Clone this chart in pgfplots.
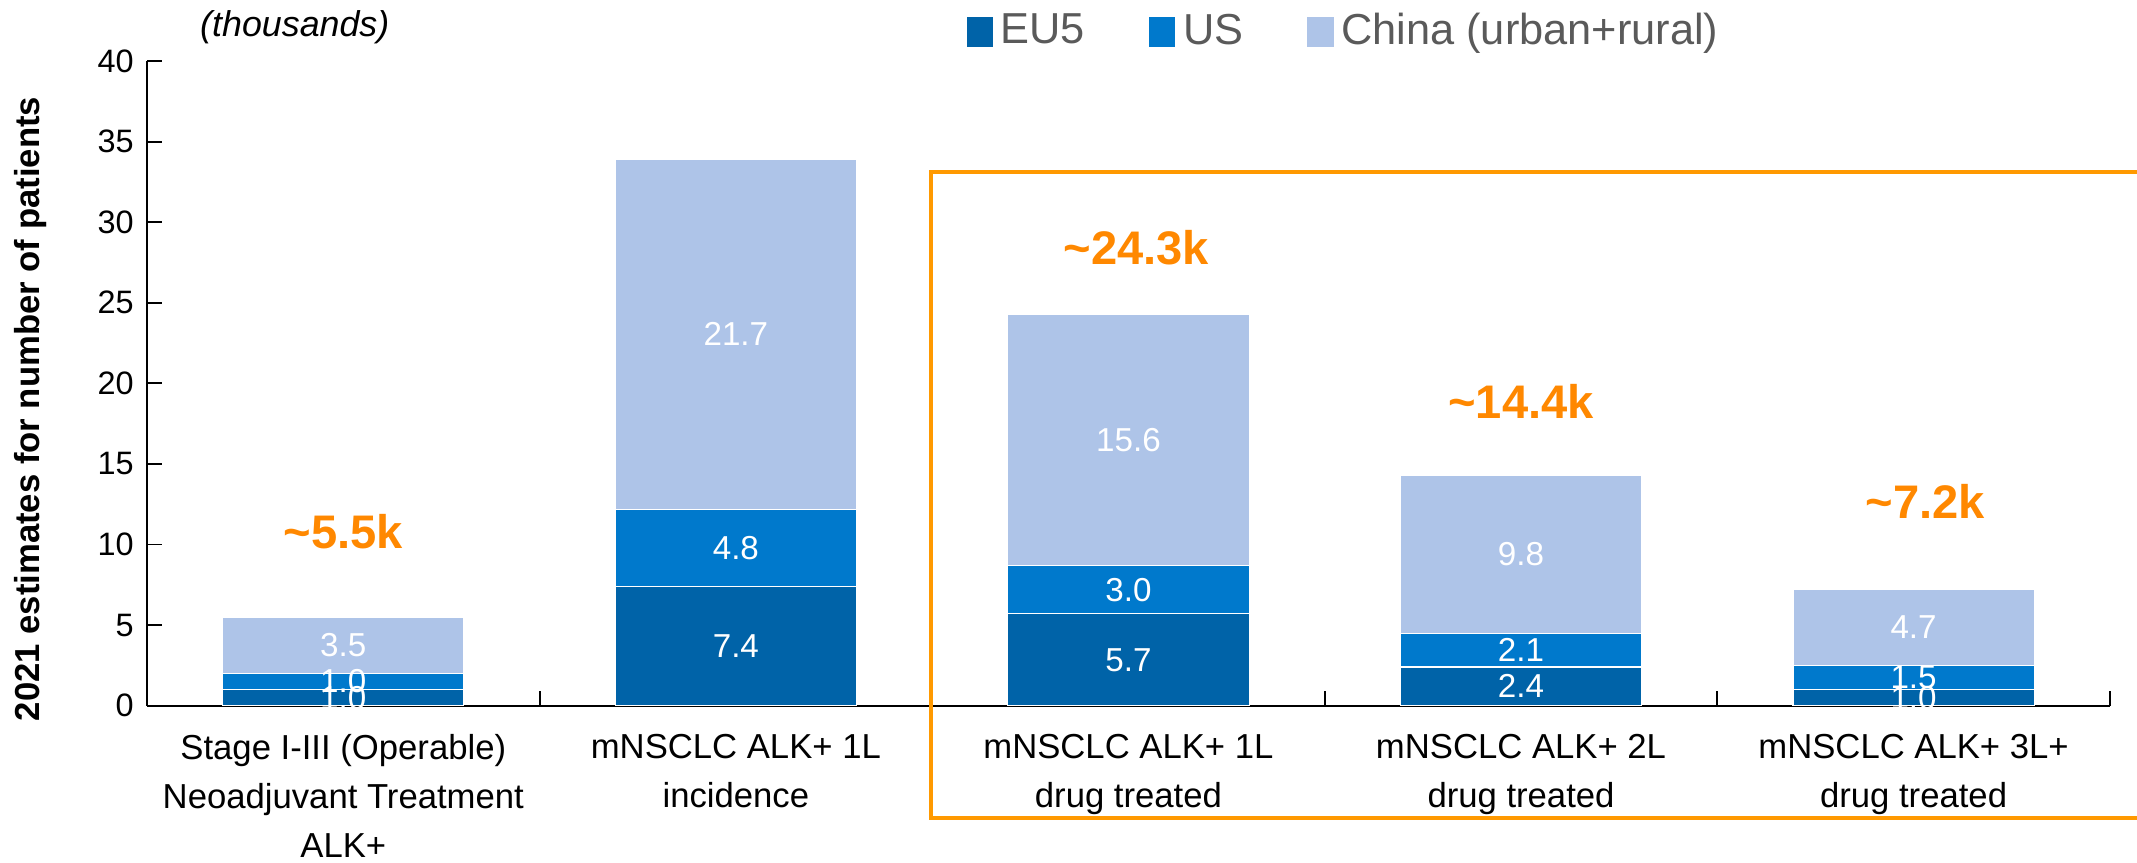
\documentclass[border=0pt]{standalone}
\usepackage{fontspec}
\setmainfont{Liberation Sans}
\usepackage{pgfplots}
\usepackage{pgfplotstable}
\pgfplotsset{compat=1.18}
\definecolor{eu}{RGB}{0,99,168}
\definecolor{us}{RGB}{0,121,204}
\definecolor{cn}{RGB}{174,196,232}
\definecolor{orangebox}{RGB}{255,153,0}
\definecolor{orangetxt}{RGB}{255,136,0}
\definecolor{legtxt}{RGB}{90,90,90}

\pgfplotstableread{
x eu us cn
0 1.0 1.0 3.5
1 7.4 4.8 21.7
2 5.7 3.0 15.6
3 2.4 2.1 9.8
4 1.0 1.5 4.7
}\datatab

\pgfplotstableread{
x y lab
0 0.5 1.0
0 1.5 1.0
0 3.75 3.5
1 3.7 7.4
1 9.8 4.8
1 23.05 21.7
2 2.85 5.7
2 7.2 3.0
2 16.5 15.6
3 1.2 2.4
3 3.45 2.1
3 9.4 9.8
4 0.5 1.0
4 1.75 1.5
4 4.85 4.7
}\segtab

\pgfplotstableread{
x y lab
0 10.8 \textasciitilde{}5.5k
2.02 28.4 \textasciitilde{}24.3k
3.0 18.9 \textasciitilde{}14.4k
4.03 12.7 \textasciitilde{}7.2k
}\tottab

\begin{document}
\begin{tikzpicture}
\useasboundingbox (-39pt,-41.6pt) rectangle (527.9pt,187.2pt);
\begin{axis}[
  scale only axis, width=520.7pt, height=171pt,
  ybar stacked, bar width=64pt,
  xmin=-0.5, xmax=4.5, ymin=0, ymax=40,
  axis x line*=bottom, axis y line*=left,
  axis line style={black, line width=0.6pt},
  tick align=inside, major tick length=4pt,
  tick style={black, line width=0.5pt},
  xtick={-0.5,0.5,...,4.5}, xticklabels={},
  extra x ticks={0,1,2,3,4},
  extra x tick labels={{Stage I-III (Operable)\\Neoadjuvant Treatment\\ALK+},{mNSCLC ALK+ 1L\\incidence},{mNSCLC ALK+ 1L\\drug treated},{mNSCLC ALK+ 2L\\drug treated},{mNSCLC ALK+ 3L+\\drug treated}},
  extra x tick style={major tick length=0pt},
  xticklabel style={align=center, font=\fontsize{9.2}{13.1}\selectfont, yshift=-4pt},
  ytick={0,5,...,40},
  yticklabel style={font=\fontsize{8.6}{10}\selectfont},
  /pgf/number format/assume math mode=true,
  clip=false,
  legend columns=3,
  legend style={at={(0.611,1)}, anchor=center, yshift=7.8pt, draw=none, fill=none,
    font=\fontsize{11.5}{13}\selectfont, text=legtxt,
    /tikz/every even column/.append style={column sep=15pt}},
  legend image code/.code={\path[#1,draw=none] (0pt,-4pt) rectangle (7pt,4pt);},
]
\addplot[fill=eu, draw=white, line width=0.3pt] table[x=x,y=eu] {\datatab};
\addplot[fill=us, draw=white, line width=0.3pt] table[x=x,y=us] {\datatab};
\addplot[fill=cn, draw=white, line width=0.3pt] table[x=x,y=cn] {\datatab};
\legend{EU5,US,China (urban+rural)}
\end{axis}
\begin{axis}[scale only axis, width=520.7pt, height=171pt,
  xmin=-0.5, xmax=4.5, ymin=0, ymax=40, hide axis, clip=false]
\addplot[draw=none, mark=none, nodes near coords, point meta=explicit symbolic,
  nodes near coords style={anchor=center, text=white, font=\fontsize{8.8}{10}\selectfont}]
  table[x=x,y=y,meta=lab] {\segtab};
\addplot[draw=none, mark=none, nodes near coords, point meta=explicit symbolic,
  nodes near coords style={anchor=center, text=orangetxt, font=\bfseries\fontsize{12.5}{14}\selectfont}]
  table[x=x,y=y,meta=lab] {\tottab};
\end{axis}
\node[rotate=90, font=\bfseries\fontsize{9.2}{10}\selectfont] at (-31pt,78.7pt) {2021 estimates for number of patients};
\node[font=\itshape\fontsize{9.5}{11}\selectfont] at (39.2pt,180pt) {(thousands)};
\draw[orangebox, line width=1.2pt] (545pt,141.6pt) -- (208pt,141.6pt) -- (208pt,-29.8pt) -- (545pt,-29.8pt);
\end{tikzpicture}
\end{document}
